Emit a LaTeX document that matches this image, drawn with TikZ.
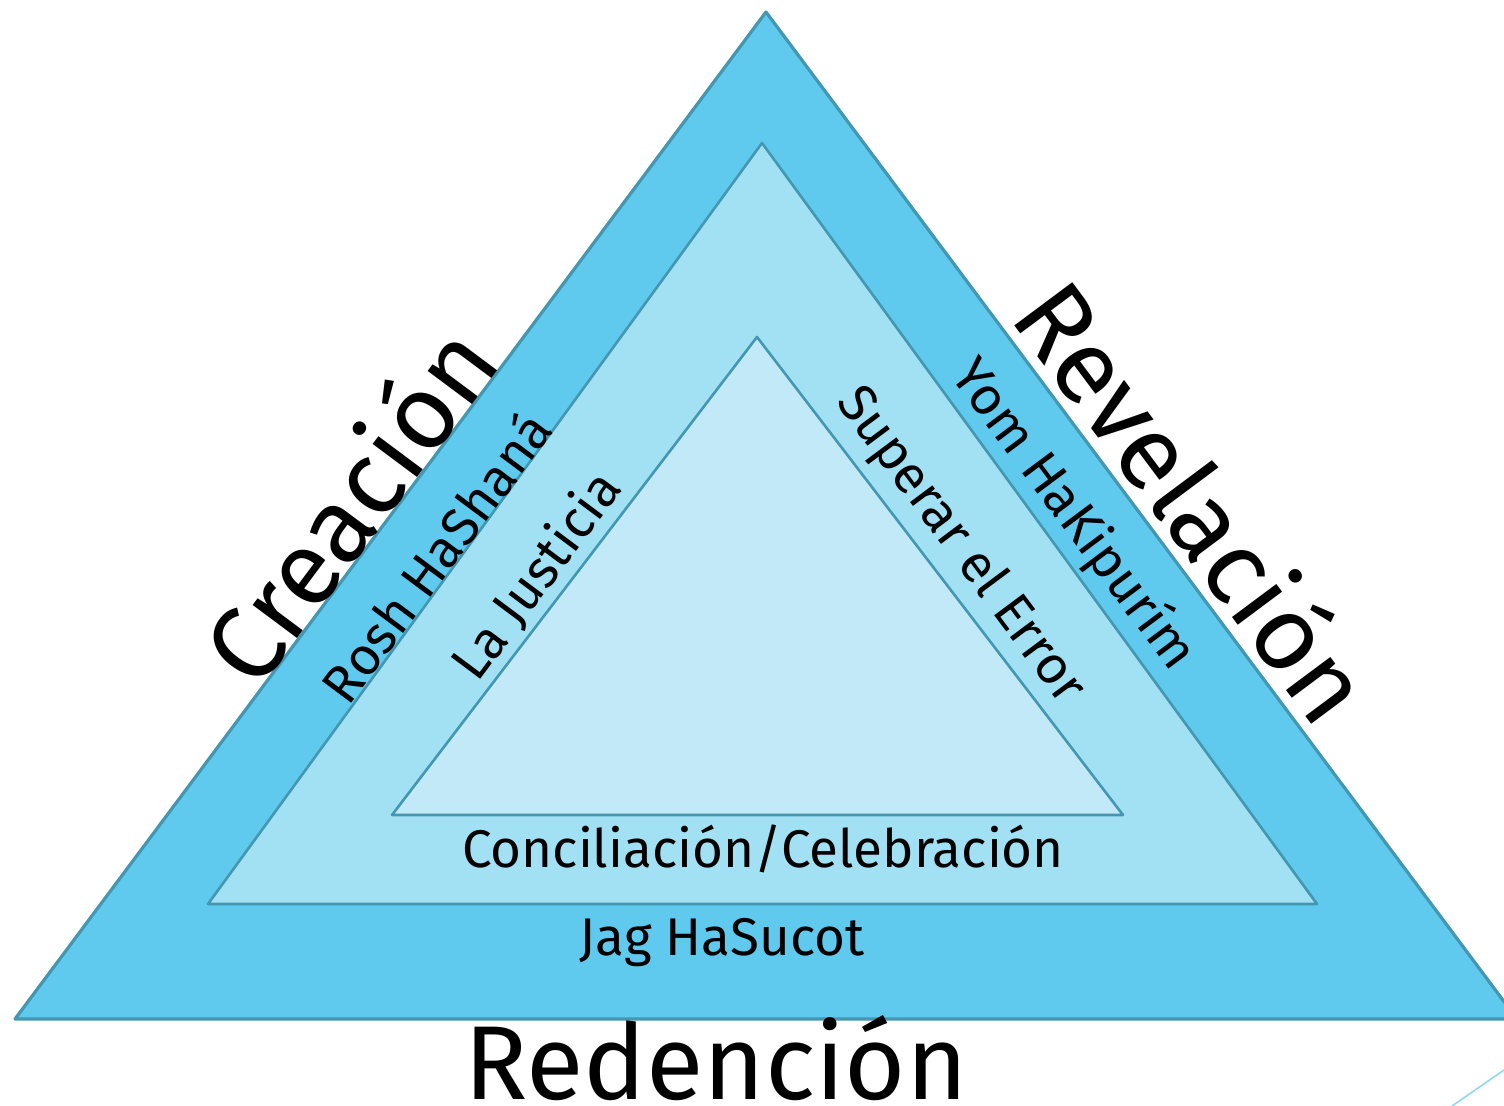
\documentclass[tikz,border=0pt]{standalone}
\usepackage{fontspec}
\setmainfont{Fira Sans}
\usepackage{tikz}
\definecolor{outerblue}{HTML}{5FC9EE}
\definecolor{midblue}{HTML}{A2E0F4}
\definecolor{innerblue}{HTML}{C1E9F8}
\definecolor{edgeblue}{HTML}{4397B0}
\definecolor{slideline}{HTML}{8FD8F2}
\tikzset{
	tri/.style={draw=edgeblue, line width=1.6pt, line join=round},
	bigword/.style={font=\fontsize{52.5}{60}\selectfont, inner sep=0pt},
	smallword/.style={font=\fontsize{26.5}{30}\selectfont, inner sep=0pt}
}

\begin{document}
\begin{tikzpicture}[x=0.5pt, y=-0.5pt]
			%%%%% START %%%%%
			\useasboundingbox (0, 0) rectangle (1504, 1106);
			\clip (0, 0) rectangle (1504, 1106);
			
			\coordinate (outertop) at (766, 12);
			\coordinate (outerleft) at (15, 1019);
			\coordinate (outerright) at (1517, 1019);
			\coordinate (midtop) at (762, 143);
			\coordinate (midleft) at (208, 904);
			\coordinate (midright) at (1317, 904);
			\coordinate (innertop) at (757, 337);
			\coordinate (innerleft) at (392, 815);
			\coordinate (innerright) at (1123, 815);
			
			\draw[tri, fill=outerblue] (outertop) -- (outerleft) -- (outerright) -- cycle;
			\draw[tri, fill=midblue, line width=1.3pt] (midtop) -- (midleft) -- (midright) -- cycle;
			\draw[tri, fill=innerblue, line width=1.3pt] (innertop) -- (innerleft) -- (innerright) -- cycle;
			
			% the three outer words
			\node[bigword, rotate=53.3] (creacion) at (347, 503) {Creación};
			\node[bigword, rotate=-53.3] (revelacion) at (1196, 500) {Revelación};
			\node[bigword] (redencion) at (716, 1058) {Redención};
			
			% the feasts
			\node[smallword, rotate=53.3] (rosh) at (435, 556) {Rosh HaShaná};
			\node[smallword, rotate=-53.3] (yom) at (1073, 515) {Yom HaKipurím};
			\node[smallword] (jag) at (722, 943) {Jag HaSucot};
			
			% the inner themes
			\node[smallword, rotate=53.3] (justicia) at (537, 576) {La Justicia};
			\node[smallword, rotate=-53.3] (superar) at (960, 546) {Superar el Error};
			\node[smallword] (concil) at (763, 849) {Conciliación/Celebración};
			
			\coordinate (slidea) at (1452, 1106);
			\coordinate (slideb) at (1504, 1070);
			\draw[slideline, line width=0.8pt] (slidea) -- (slideb);
			%%%%% END %%%%%
		\end{tikzpicture}
\end{document}
